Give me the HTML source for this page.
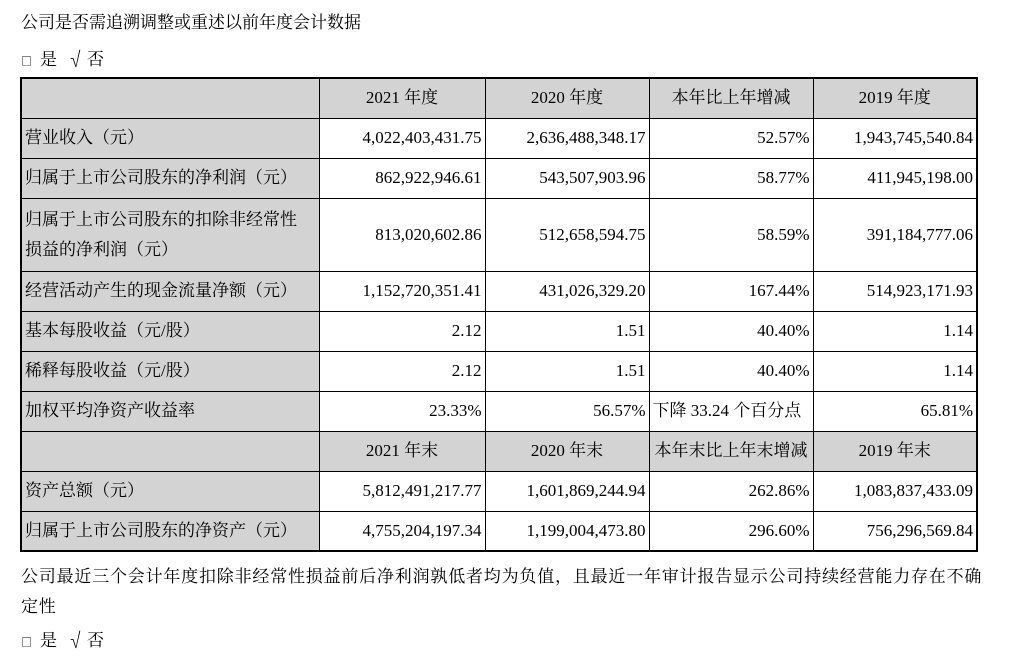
<!DOCTYPE html>
<html><head><meta charset="utf-8"><style>
body{margin:0;width:1029px;height:659px;background:#fff;position:relative;font-family:"Liberation Serif","Noto Serif CJK SC",serif;color:#000;font-size:17px;overflow:hidden}
.t{position:absolute;white-space:nowrap}
table{position:absolute;left:20px;top:77px;border-collapse:collapse;border:2px solid #000}
td{border:1px solid #000;padding:0 3px;font-size:17px;line-height:22px;white-space:nowrap}
td.l{background:#d3d3d3;text-align:left;width:290px}
td.n{text-align:right}
tr.h td{background:#d3d3d3;text-align:center}
.cb{font-family:"Noto Serif CJK SC",serif}
.cb span{display:inline-block}
</style></head><body>
<div class="t" style="left:21px;top:8px">公司是否需追溯调整或重述以前年度会计数据</div>
<div class="t cb" style="left:21px;top:45px"><span style="width:19px;font-size:11px">□</span><span style="width:27px">是</span><span style="width:20px">√</span><span>否</span></div>
<table>
<colgroup><col style="width:298px"><col style="width:166px"><col style="width:164px"><col style="width:164px"><col style="width:164px"></colgroup>
<tr class="h" style="height:40px"><td></td><td>2021 年度</td><td>2020 年度</td><td>本年比上年增减</td><td>2019 年度</td></tr>
<tr style="height:40px"><td class="l">营业收入（元）</td><td class="n">4,022,403,431.75</td><td class="n">2,636,488,348.17</td><td class="n">52.57%</td><td class="n">1,943,745,540.84</td></tr>
<tr style="height:40px"><td class="l">归属于上市公司股东的净利润（元）</td><td class="n">862,922,946.61</td><td class="n">543,507,903.96</td><td class="n">58.77%</td><td class="n">411,945,198.00</td></tr>
<tr style="height:73px"><td class="l" style="line-height:30px">归属于上市公司股东的扣除非经常性<br>损益的净利润（元）</td><td class="n">813,020,602.86</td><td class="n">512,658,594.75</td><td class="n">58.59%</td><td class="n">391,184,777.06</td></tr>
<tr style="height:40px"><td class="l">经营活动产生的现金流量净额（元）</td><td class="n">1,152,720,351.41</td><td class="n">431,026,329.20</td><td class="n">167.44%</td><td class="n">514,923,171.93</td></tr>
<tr style="height:40px"><td class="l">基本每股收益（元/股）</td><td class="n">2.12</td><td class="n">1.51</td><td class="n">40.40%</td><td class="n">1.14</td></tr>
<tr style="height:40px"><td class="l">稀释每股收益（元/股）</td><td class="n">2.12</td><td class="n">1.51</td><td class="n">40.40%</td><td class="n">1.14</td></tr>
<tr style="height:40px"><td class="l">加权平均净资产收益率</td><td class="n">23.33%</td><td class="n">56.57%</td><td>下降 33.24 个百分点</td><td class="n">65.81%</td></tr>
<tr class="h" style="height:40px"><td></td><td>2021 年末</td><td>2020 年末</td><td>本年末比上年末增减</td><td>2019 年末</td></tr>
<tr style="height:40px"><td class="l">资产总额（元）</td><td class="n">5,812,491,217.77</td><td class="n">1,601,869,244.94</td><td class="n">262.86%</td><td class="n">1,083,837,433.09</td></tr>
<tr style="height:40px"><td class="l">归属于上市公司股东的净资产（元）</td><td class="n">4,755,204,197.34</td><td class="n">1,199,004,473.80</td><td class="n">296.60%</td><td class="n">756,296,569.84</td></tr>
</table>
<div class="t" style="left:21px;top:562px;letter-spacing:0.8px">公司最近三个会计年度扣除非经常性损益前后净利润孰低者均为负值，且最近一年审计报告显示公司持续经营能力存在不确</div>
<div class="t" style="left:21px;top:592px;letter-spacing:0.8px">定性</div>
<div class="t cb" style="left:21px;top:626px"><span style="width:19px;font-size:11px">□</span><span style="width:27px">是</span><span style="width:20px">√</span><span>否</span></div>
</body></html>
